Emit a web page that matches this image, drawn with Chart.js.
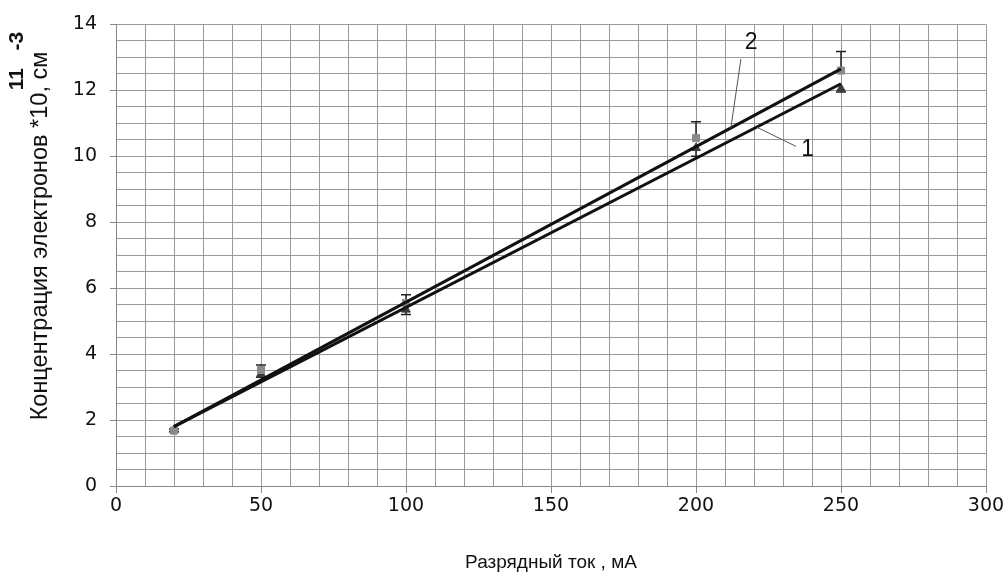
<!DOCTYPE html>
<html>
<head>
<meta charset="utf-8">
<script src="https://cdn.jsdelivr.net/npm/chart.js@4"></script>
<style>
    html, body { margin: 0; padding: 0; background: #fff; }
    #wrap { width: 1007px; height: 577px; }
</style>
</head>
<body>
<div id="wrap"><canvas id="chart" width="1007" height="577"></canvas></div>
<script>
// measured points (discharge current, mA)
const currents = [20, 50, 100, 200, 250];
const series1 = [1.70, 3.40, 5.35, 10.25, 12.05];
const series2 = [1.68, 3.52, 5.55, 10.55, 12.60];
const err1Down = [0.05, 0.10, 0.15, 0.25, 0.10];
const err2Up = [0.05, 0.15, 0.25, 0.50, 0.58];

// linear trend lines
const trendX = [20, 250];
const trend1 = [1.80, 12.20];
const trend2 = [1.80, 12.65];

// curve labels with leader lines: [text, textX, textY, lineFromX, lineFromY, lineToX, lineToY]
const curveLabels = [
    ["2", 219, 13.45, 215.5, 12.95, 212, 10.85],
    ["1", 238.5, 10.2, 234.5, 10.3, 221, 10.88]
];

const xTitle = "Разрядный ток , мА";
const yTitle = "Концентрация электронов *10, см";
const yTitleSup = "11   -3";

const font = "'Liberation Sans', Arial, sans-serif";
const tickFont = "'DejaVu Sans', 'Liberation Sans', sans-serif";

function toPoints(xs, ys) {
    return xs.map((x, i) => ({ x: x, y: ys[i] }));
}

const errorBars = {
    id: "errorBars",
    beforeDatasetsDraw(chart) {
        const { ctx, scales: { x, y } } = chart;
        ctx.save();
        ctx.strokeStyle = "#222";
        ctx.lineWidth = 1.5;
        currents.forEach((c, i) => {
            const px = x.getPixelForValue(c);
            // series 2 - upper bars
            let y0 = y.getPixelForValue(series2[i]);
            let y1 = y.getPixelForValue(series2[i] + err2Up[i]);
            ctx.beginPath();
            ctx.moveTo(px, y0); ctx.lineTo(px, y1);
            ctx.moveTo(px - 5, y1); ctx.lineTo(px + 5, y1);
            ctx.stroke();
            // series 1 - lower bars
            y0 = y.getPixelForValue(series1[i]);
            y1 = y.getPixelForValue(series1[i] - err1Down[i]);
            ctx.beginPath();
            ctx.moveTo(px, y0); ctx.lineTo(px, y1);
            ctx.moveTo(px - 5, y1); ctx.lineTo(px + 5, y1);
            ctx.stroke();
        });
        ctx.restore();
    },
    afterDatasetsDraw(chart) {
        const { ctx, scales: { x, y } } = chart;
        ctx.save();
        curveLabels.forEach(l => {
            ctx.strokeStyle = "#555";
            ctx.lineWidth = 1;
            ctx.beginPath();
            ctx.moveTo(x.getPixelForValue(l[3]), y.getPixelForValue(l[4]));
            ctx.lineTo(x.getPixelForValue(l[5]), y.getPixelForValue(l[6]));
            ctx.stroke();
            ctx.fillStyle = "#111";
            ctx.font = "23px " + font;
            ctx.textAlign = "center";
            ctx.textBaseline = "middle";
            ctx.fillText(l[0], x.getPixelForValue(l[1]), y.getPixelForValue(l[2]));
        });
        ctx.restore();
    },
    afterDraw(chart) {
        const { ctx, chartArea } = chart;
        ctx.save();
        ctx.fillStyle = "#111";
        ctx.textAlign = "center";
        ctx.textBaseline = "middle";
        ctx.font = "19px " + font;
        ctx.fillText(xTitle, (chartArea.left + chartArea.right) / 2, 563);
        ctx.font = "23.5px " + font;
        ctx.translate(41, 236);
        ctx.rotate(-Math.PI / 2);
        ctx.fillText(yTitle, 0, 0);
        ctx.restore();
        ctx.save();
        ctx.fillStyle = "#111";
        ctx.textAlign = "center";
        ctx.textBaseline = "middle";
        ctx.font = "bold 21px " + font;
        ctx.translate(17, 61);
        ctx.rotate(-Math.PI / 2);
        ctx.fillText(yTitleSup, 0, 0);
        ctx.restore();
    }
};

new Chart(document.getElementById("chart"), {
    type: "scatter",
    data: {
        datasets: [
            {
                label: "1",
                data: toPoints(trendX, trend1),
                showLine: true,
                borderColor: "#111",
                borderWidth: 3,
                pointRadius: 0,
                order: 0
            },
            {
                label: "2",
                data: toPoints(trendX, trend2),
                showLine: true,
                borderColor: "#111",
                borderWidth: 3,
                pointRadius: 0,
                order: 0
            },
            {
                label: "series 1",
                data: toPoints(currents, series1),
                pointStyle: "triangle",
                pointRadius: 5,
                backgroundColor: "#3c3c3c",
                borderColor: "#3c3c3c",
                order: 2
            },
            {
                label: "series 2",
                data: toPoints(currents, series2),
                pointStyle: "rect",
                pointRadius: 5,
                backgroundColor: "#8a8a8a",
                borderColor: "#8a8a8a",
                order: 1
            }
        ]
    },
    options: {
        responsive: false,
        animation: false,
        layout: { padding: { left: 0, top: 23, right: 21, bottom: 0 } },
        plugins: {
            legend: { display: false },
            tooltip: { enabled: false }
        },
        scales: {
            x: {
                type: "linear",
                min: 0,
                max: 300,
                afterFit(scale) { scale.height = 91; },
                border: { color: "#888", width: 1 },
                grid: {
                    color: "#999",
                    lineWidth: 1,
                    tickLength: 7,
                    tickColor: ctx => (ctx.tick && ctx.tick.value % 50 === 0) ? "#888" : "rgba(0,0,0,0)"
                },
                ticks: {
                    stepSize: 10,
                    autoSkip: false,
                    maxRotation: 0,
                    padding: 2,
                    color: "#111",
                    font: { family: tickFont, size: 19 },
                    callback: v => (v % 50 === 0 ? v : "")
                }
            },
            y: {
                type: "linear",
                min: 0,
                max: 14,
                afterFit(scale) { scale.width = 116; },
                border: { color: "#888", width: 1 },
                grid: {
                    color: "#999",
                    lineWidth: 1,
                    tickLength: 6,
                    tickColor: ctx => (ctx.tick && ctx.tick.value % 2 === 0) ? "#888" : "rgba(0,0,0,0)"
                },
                ticks: {
                    stepSize: 0.5,
                    autoSkip: false,
                    padding: 13,
                    color: "#111",
                    font: { family: tickFont, size: 19 },
                    callback: v => (v % 2 === 0 ? v : "")
                }
            }
        }
    },
    plugins: [errorBars]
});
</script>
</body>
</html>
